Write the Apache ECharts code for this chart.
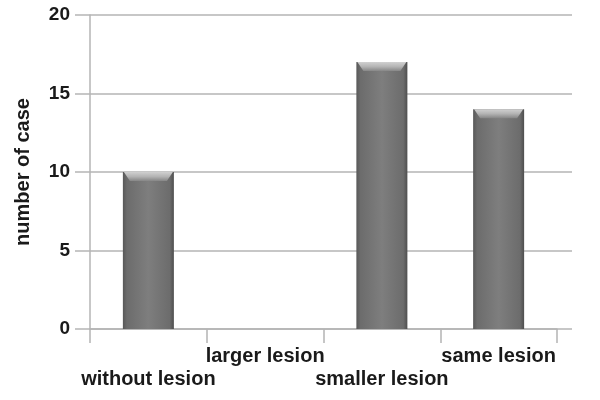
<!DOCTYPE html>
<html>
<head>
<meta charset="utf-8">
<script src="https://cdn.jsdelivr.net/npm/echarts@6/dist/echarts.min.js"></script>
<style>html,body{margin:0;padding:0;background:#fff;}#c{width:600px;height:400px;}</style>
</head>
<body>
<div id="c"></div>
<script>
var categories = ['without lesion', 'larger lesion', 'smaller lesion', 'same lesion'];
var values = [10, 0, 17, 14];
var yTicks = [0, 5, 10, 15, 20];

var chart = echarts.init(document.getElementById('c'));
var FONT = 'Liberation Sans, Arial, sans-serif';
var gridColor = '#b4b4b4';

function renderBar(params, api) {
  var idx = api.value(0), v = api.value(1);
  if (!v) return null;
  var top = api.coord([idx, v]);
  var base = api.coord([idx, 0]);
  var w = 51;
  var x0 = top[0] - w / 2;
  var h = base[1] - top[1];
  var capH = 9;
  return {
    type: 'group',
    children: [
      {
        type: 'rect',
        shape: { x: x0, y: top[1], width: w, height: h },
        style: {
          fill: new echarts.graphic.LinearGradient(0, 0, 1, 0, [
            { offset: 0, color: '#585858' },
            { offset: 0.08, color: '#6c6c6c' },
            { offset: 0.5, color: '#7e7e7e' },
            { offset: 0.92, color: '#6c6c6c' },
            { offset: 1, color: '#4e4e4e' }
          ])
        }
      },
      {
        type: 'polygon',
        shape: { points: [[x0 + 1, top[1]], [x0 + w - 1, top[1]], [x0 + w - 7, top[1] + capH], [x0 + 7, top[1] + capH]] },
        style: {
          fill: new echarts.graphic.LinearGradient(0, 0, 0, 1, [
            { offset: 0, color: '#d0d0d0' },
            { offset: 0.5, color: '#b4b4b4' },
            { offset: 1, color: '#868686' }
          ])
        }
      }
    ]
  };
}

chart.setOption({
  animation: false,
  grid: [
    { left: 90, right: 43, top: 15, bottom: 71 },
    { left: 75, right: 28, top: 15, bottom: 71 }
  ],
  xAxis: [
    {
      type: 'category', gridIndex: 0, data: categories,
      boundaryGap: true,
      axisLine: { show: true, lineStyle: { color: gridColor, width: 1.5 } },
      axisTick: { show: true, length: 14, alignWithLabel: false, lineStyle: { color: gridColor, width: 1.5 } },
      axisLabel: {
        interval: 0, margin: 16, color: '#1a1a1a', fontFamily: FONT, fontWeight: 'bold', fontSize: 20,
        lineHeight: 23, verticalAlign: 'top',
        formatter: function (val, i) { return (i % 2 === 0) ? '\n' + val : val; }
      }
    },
    { type: 'value', gridIndex: 1, min: 0, max: 1, show: false }
  ],
  yAxis: [
    {
      type: 'value', gridIndex: 0, min: yTicks[0], max: yTicks[yTicks.length - 1], interval: 5,
      name: 'number of case', nameLocation: 'middle', nameGap: 57,
      nameTextStyle: { color: '#1a1a1a', fontFamily: FONT, fontWeight: 'bold', fontSize: 20 },
      axisLine: { show: true, lineStyle: { color: gridColor, width: 1.5 } },
      axisTick: { show: false },
      axisLabel: { margin: 20, color: '#1a1a1a', fontFamily: FONT, fontWeight: 'bold', fontSize: 19 },
      splitLine: { show: false }
    },
    {
      type: 'value', gridIndex: 1, min: yTicks[0], max: yTicks[yTicks.length - 1], interval: 5,
      axisLine: { show: false }, axisTick: { show: false }, axisLabel: { show: false },
      splitLine: { show: true, lineStyle: { color: gridColor, width: 1.5 } }
    }
  ],
  series: [
    {
      type: 'custom', xAxisIndex: 0, yAxisIndex: 0, z: 5,
      renderItem: renderBar,
      data: values.map(function (v, i) { return [i, v]; })
    }
  ]
});
</script>
</body>
</html>
